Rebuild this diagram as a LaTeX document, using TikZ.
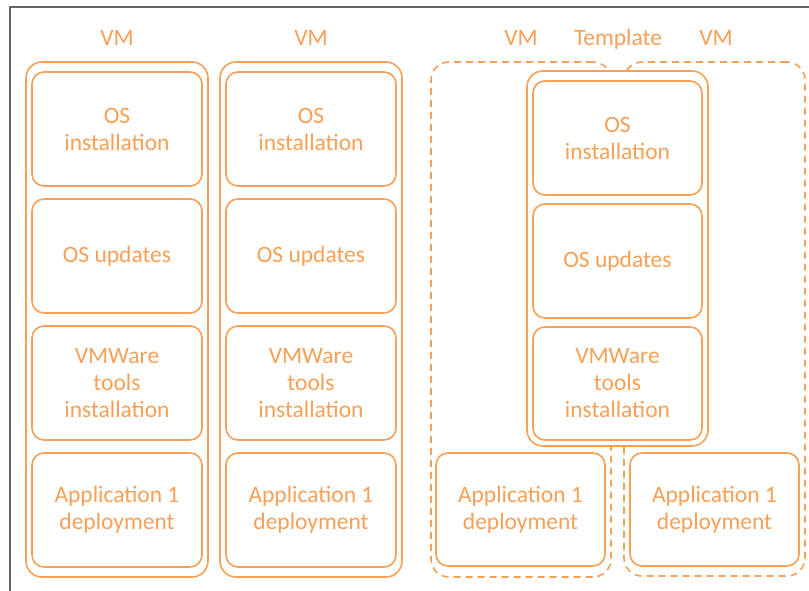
\documentclass[tikz,border=0pt]{standalone}
\usepackage{fontspec}
\setmainfont{Carlito}
\definecolor{vmorange}{RGB}{247,160,88}
\definecolor{framegray}{RGB}{100,100,100}
\begin{document}
\begin{tikzpicture}[x=1pt,y=-1pt,
  txt/.style={text=vmorange,font=\fontsize{23.5}{27}\selectfont,align=center},
  ibox/.style={txt,draw=vmorange,line width=1.6pt,rounded corners=12pt,
    minimum width=170pt,minimum height=114pt,inner sep=0pt},
  obox/.style={draw=vmorange,line width=1.6pt,rounded corners=16pt,inner sep=0pt},
  dbox/.style={draw=vmorange,line width=1.6pt,rounded corners=18pt,inner sep=0pt,
    dash pattern=on 7pt off 5pt},
  lbl/.style={txt,inner sep=0pt,anchor=base}]
\useasboundingbox (0,0) rectangle (809,591);
\fill[white] (0,0) rectangle (809,591);
\draw[framegray,line width=2pt] (10,591) -- (10,7.5) -- (809,7.5);

% labels
\node[lbl] (l1) at (117,45.5) {VM};
\node[lbl] (l2) at (311,45.5) {VM};
\node[lbl] (l3) at (521,45.5) {VM};
\node[lbl] (l4) at (618,45.5) {Template};
\node[lbl] (l5) at (716,45.5) {VM};

% column 1
\node[obox,minimum width=182pt,minimum height=515pt] (c1) at (117,319.5) {};
\node[ibox] (c1a) at (117,129) {OS\\installation};
\node[ibox] (c1b) at (117,256) {OS updates};
\node[ibox] (c1c) at (117,383) {VMWare\\tools\\installation};
\node[ibox] (c1d) at (117,510) {Application 1\\deployment};

% column 2
\node[obox,minimum width=182pt,minimum height=515pt] (c2) at (311,319.5) {};
\node[ibox] (c2a) at (311,129) {OS\\installation};
\node[ibox] (c2b) at (311,256) {OS updates};
\node[ibox] (c2c) at (311,383) {VMWare\\tools\\installation};
\node[ibox] (c2d) at (311,510) {Application 1\\deployment};

% dashed VMs
\node[dbox,minimum width=180pt,minimum height=515pt] (v1) at (521,319.5) {};
\node[dbox,minimum width=181pt,minimum height=514pt] (v2) at (714.5,319) {};

% template
\node[obox,fill=white,minimum width=181pt,minimum height=375pt] (t) at (617.5,258.5) {};
\node[ibox,minimum width=169pt] (ta) at (617.5,138) {OS\\installation};
\node[ibox,minimum width=169pt] (tb) at (617.5,261) {OS updates};
\node[ibox,minimum width=169pt,minimum height=113pt] (tc) at (617.5,383.5) {VMWare\\tools\\installation};

% apps in dashed VMs
\node[ibox,minimum width=169pt,minimum height=113pt] (a1) at (520.5,509.5) {Application 1\\deployment};
\node[ibox,minimum width=169pt,minimum height=113pt] (a2) at (714.5,509.5) {Application 1\\deployment};
\end{tikzpicture}
\end{document}
